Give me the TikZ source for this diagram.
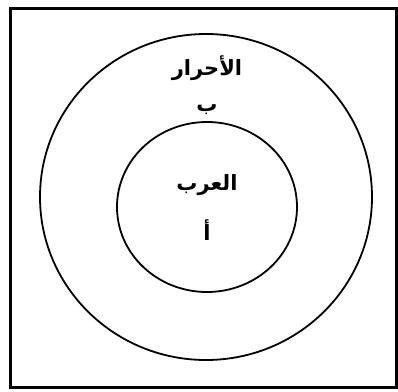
\documentclass[tikz,border=0pt]{standalone}
\usepackage{fontspec}
\usetikzlibrary{positioning}
\TeXXeTstate=1
\newfontfamily\arabicfont[Script=Arabic,BoldFont={DejaVu Sans Bold}]{DejaVu Sans}
\tikzset{
  ring/.style={draw=black, line width=1.8pt},
  label ar/.style={font=\arabicfont\bfseries\fontsize{21}{24}\selectfont, inner sep=1pt}
}

\begin{document}
\begin{tikzpicture}[x=1pt,y=-1pt]
\useasboundingbox (0,0) rectangle (398,391);
\draw[line width=3pt] (10,8) rectangle (396,387);
\draw[ring] (206,197) ellipse (166 and 163);
\draw[ring] (207,207) ellipse (90 and 85);
\node[label ar] (ahrar) at (207,68) {\beginR الأحرار\endR};
\node[label ar] (ba) at (207,110) {\beginR ب\endR};
\node[label ar] (arab) at (207,185) {\beginR العرب\endR};
\node[label ar] (alif) at (207,230) {\beginR أ\endR};
\end{tikzpicture}
\end{document}
